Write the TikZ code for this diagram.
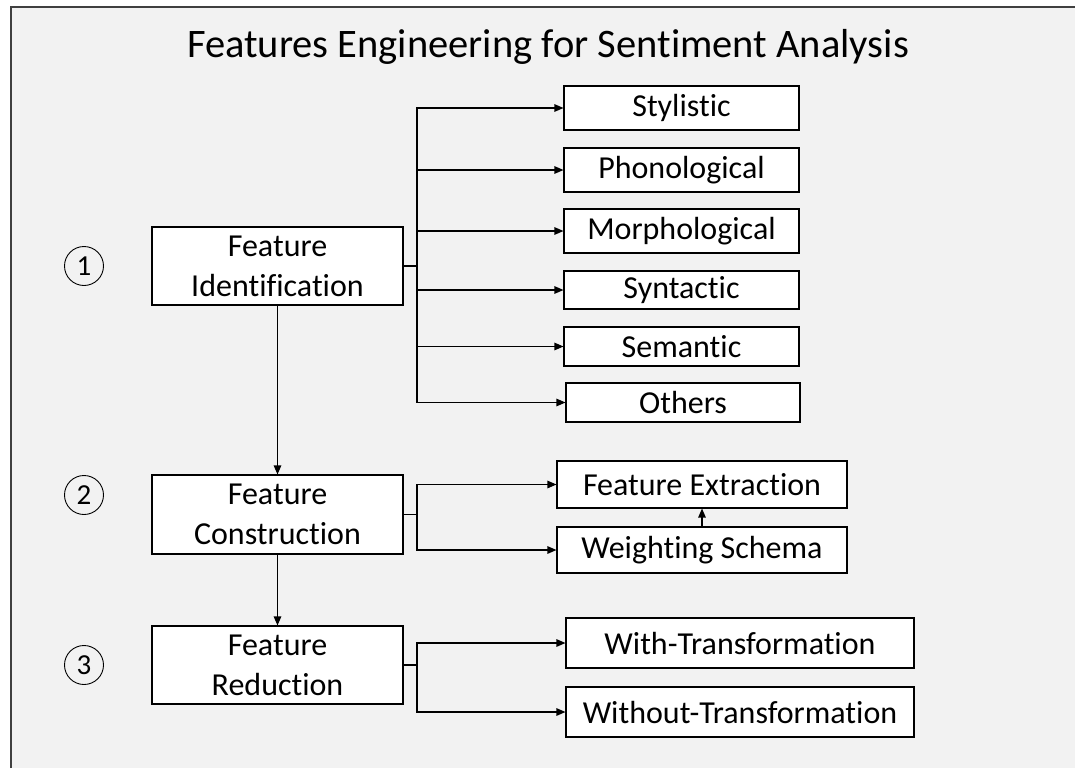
\documentclass[tikz,border=0pt]{standalone}
\usepackage{fontspec}
\setmainfont{Carlito}[Ligatures=NoCommon]
\usetikzlibrary{arrows.meta}
\definecolor{bggray}{HTML}{F2F2F2}
\definecolor{edge}{HTML}{404040}
\tikzset{
  box/.style={draw=black, fill=white, line width=1.1pt, inner sep=0pt, align=center,
    font=\fontsize{32}{40}\selectfont},
  num/.style={draw=black, circle, fill=none, line width=0.9pt, minimum size=39pt, inner sep=0pt,
    font=\fontsize{29}{30}\selectfont},
  conn/.style={line width=1.2pt, draw=black},
  arr/.style={conn, -{Triangle[length=9pt,width=7.5pt]}},
}
\begin{document}
\begin{tikzpicture}[x=1pt,y=-1pt]
\useasboundingbox (0,0) rectangle (1075,768);
\fill[white] (0,0) rectangle (1075,768);
\fill[bggray] (11,7) rectangle (1075,768);
\draw[edge, line width=1.3pt] (11,768) -- (11,7) -- (1075,7);

\node[font=\fontsize{40.5}{48}\selectfont, inner sep=0pt] (title) at (548,47) {Features Engineering for Sentiment Analysis};

% main stages
\node[box, minimum width=251pt, minimum height=78pt] (fi) at (277.5,266) {Feature\\Identification};
\node[box, minimum width=251pt, minimum height=79pt] (fc) at (277.5,514.5) {Feature\\Construction};
\node[box, minimum width=251pt, minimum height=78pt] (fr) at (277.5,665) {Feature\\Reduction};

\node[num] (n1) at (84,266) {1};
\node[num] (n2) at (84,495) {2};
\node[num] (n3) at (84,665) {3};

% group 1
\node[box, minimum width=235pt, minimum height=44pt] (sty) at (681.5,108) {Stylistic};
\node[box, minimum width=235pt, minimum height=44pt] (pho) at (681.5,170) {Phonological};
\node[box, minimum width=235pt, minimum height=44pt] (mor) at (681.5,231) {Morphological};
\node[box, minimum width=235pt, minimum height=38pt] (syn) at (681.5,290) {Syntactic};
\node[box, minimum width=235pt, minimum height=39pt] (sem) at (681.5,346.5) {Semantic};
\node[box, minimum width=234pt, minimum height=39pt] (oth) at (683,402.5) {Others};

% group 2
\node[box, minimum width=290pt, minimum height=47pt] (fe) at (702,484.5) {Feature Extraction};
\node[box, minimum width=290pt, minimum height=46pt] (ws) at (702,550) {Weighting Schema};

% group 3
\node[box, minimum width=348pt, minimum height=50pt] (wt) at (740,643) {With-Transformation};
\node[box, minimum width=348pt, minimum height=50pt] (wot) at (740,712) {Without-Transformation};

% vertical flow
\draw[arr] (fi.south) -- (fc.north);
\draw[arr] (fc.south) -- (fr.north);
\draw[arr] (ws.north) -- (fe.south);

% junctions
\coordinate (j1) at (417,266);
\coordinate (j2) at (417,514.5);
\coordinate (j3) at (417,665);

\draw[conn] (fi.east) -- (j1);
\foreach \t in {sty,pho,mor,syn,sem,oth} \draw[arr] (j1) |- (\t.west);
\draw[conn] (fc.east) -- (j2);
\foreach \t in {fe,ws} \draw[arr] (j2) |- (\t.west);
\draw[conn] (fr.east) -- (j3);
\foreach \t in {wt,wot} \draw[arr] (j3) |- (\t.west);
\end{tikzpicture}
\end{document}
